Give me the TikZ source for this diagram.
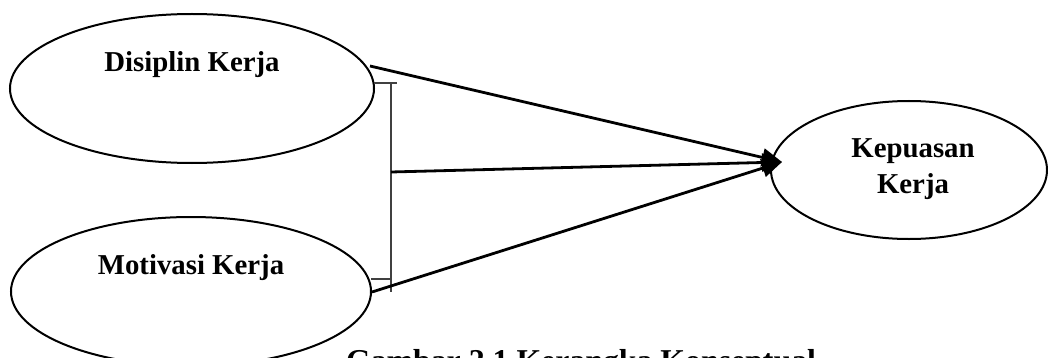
\documentclass[tikz,border=0pt]{standalone}
\usepackage{fontspec}
\setmainfont{Liberation Serif}
\usetikzlibrary{shapes.geometric,arrows.meta}
\begin{document}
\begin{tikzpicture}[x=0.5pt,y=-0.5pt,
  oval/.style={draw=black,line width=1pt,ellipse,inner sep=0pt},
  lbl/.style={anchor=base,inner sep=0pt,font=\fontsize{14.4}{17}\selectfont\bfseries},
  captext/.style={anchor=base,inner sep=0pt,font=\fontsize{15.9}{19}\selectfont\bfseries},
  link/.style={line width=1.4pt,-{Triangle[length=10pt,width=9pt]}},
  brk/.style={draw=black!75,line width=0.6pt}]
\useasboundingbox (0,0) rectangle (1048,358);
\clip (0,0) rectangle (1048,358);
% ovals
\node[oval,minimum width=182pt,minimum height=74.5pt] (dk) at (192,88.5) {};
\node[oval,minimum width=180pt,minimum height=74.5pt] (mk) at (191,291.5) {};
\node[oval,minimum width=138pt,minimum height=69pt] (kk) at (909,170) {};
% labels
\node[lbl] (tdk) at (192,72) {Disiplin Kerja};
\node[lbl] (tmk) at (191,274) {Motivasi Kerja};
\node[lbl] (tkk1) at (913,157) {Kepuasan};
\node[lbl] (tkk2) at (913,193) {Kerja};
\node[captext] (caption) at (581,371) {Gambar 2.1 Kerangka Konseptual};
% bracket
\coordinate (bt) at (391,83);
\coordinate (bb) at (391,292);
\coordinate (bm) at (391,172);
\coordinate (btl) at (374,83);
\coordinate (btr) at (397,83);
\coordinate (bbl) at (371,279);
\coordinate (bbr) at (391,279);
\draw[brk] (bt) -- (bb);
\draw[brk] (btl) -- (btr);
\draw[brk] (bbl) -- (bbr);
% connectors
\coordinate (s1) at (370,66);
\coordinate (s2) at (372,292);
\coordinate (tip) at (782,162);
\draw[link] (s1) -- (tip);
\draw[link] (s2) -- (tip);
\draw[link] (bm) -- (tip);
\end{tikzpicture}
\end{document}
